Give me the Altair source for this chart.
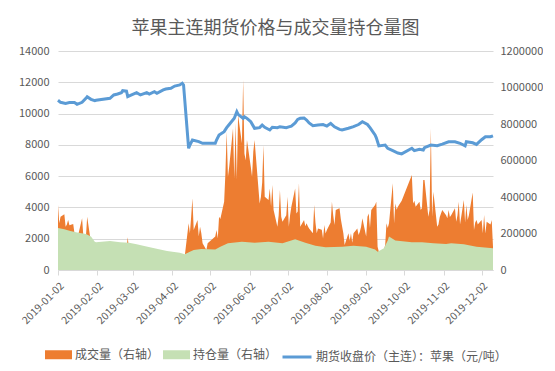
import altair as alt
import pandas as pd

FONT = "Noto Sans CJK SC"
TXT = "#595959"
GRID = "#D9D9D9"

title_text = "苹果主连期货价格与成交量持仓量图"
series_names = ["成交量（右轴）", "持仓量（右轴）", "期货收盘价（主连）：苹果（元/吨）"]
series_colors = ["#ED7D31", "#C5E0B4", "#5B9BD5"]

tick_dates = ["2019-%02d-02" % m for m in range(1, 13)]
left_ticks = [0, 2000, 4000, 6000, 8000, 10000, 12000, 14000]
right_ticks = [0, 200000, 400000, 600000, 800000, 1000000, 1200000]

price_dates = [
    "2019-01-02", "2019-01-04", "2019-01-08", "2019-01-11", "2019-01-15", "2019-01-17",
    "2019-01-21", "2019-01-24", "2019-01-25", "2019-01-28", "2019-01-31", "2019-02-01",
    "2019-02-12", "2019-02-15", "2019-02-18", "2019-02-21", "2019-02-22", "2019-02-25",
    "2019-02-26", "2019-03-01", "2019-03-05", "2019-03-08", "2019-03-13", "2019-03-15",
    "2019-03-19", "2019-03-21", "2019-03-26", "2019-03-28", "2019-04-01", "2019-04-04",
    "2019-04-08", "2019-04-10", "2019-04-11", "2019-04-15", "2019-04-16", "2019-04-18",
    "2019-04-23", "2019-04-26", "2019-05-06", "2019-05-07", "2019-05-09", "2019-05-13",
    "2019-05-15", "2019-05-17", "2019-05-21", "2019-05-23", "2019-05-24", "2019-05-28",
    "2019-05-29", "2019-05-31", "2019-06-03", "2019-06-06", "2019-06-10", "2019-06-12",
    "2019-06-14", "2019-06-18", "2019-06-20", "2019-06-24", "2019-06-26", "2019-07-01",
    "2019-07-03", "2019-07-05", "2019-07-08", "2019-07-10", "2019-07-12", "2019-07-15",
    "2019-07-17", "2019-07-19", "2019-07-22", "2019-07-26", "2019-07-30", "2019-08-02",
    "2019-08-05", "2019-08-08", "2019-08-12", "2019-08-14", "2019-08-19", "2019-08-23",
    "2019-08-27", "2019-08-30", "2019-09-03", "2019-09-05", "2019-09-09", "2019-09-10",
    "2019-09-12", "2019-09-17", "2019-09-19", "2019-09-23", "2019-09-27", "2019-09-30",
    "2019-10-08", "2019-10-10", "2019-10-14", "2019-10-17", "2019-10-18", "2019-10-23",
    "2019-10-28", "2019-11-01", "2019-11-06", "2019-11-11", "2019-11-15", "2019-11-19",
    "2019-11-20", "2019-11-25", "2019-11-28", "2019-12-02", "2019-12-05", "2019-12-09",
    "2019-12-11",
]
price_values = [
    10850, 10720, 10650, 10700, 10700, 10590,
    10720, 10975, 11080, 10910, 10820, 10850,
    10975, 11190, 11250, 11335, 11465, 11440,
    11080, 11190, 11335, 11190, 11335, 11250,
    11400, 11295, 11510, 11570, 11615, 11760,
    11830, 11935, 11830, 7780, 7990, 8310,
    8205, 8100, 8100, 8310, 8630, 8845,
    9100, 9300, 9700, 10120, 9950, 9695,
    9800, 9695, 9480, 9055, 9100, 9270,
    9120, 8950, 9120, 9100, 9160, 9100,
    9150, 9200, 9400, 9630, 9700, 9720,
    9590, 9400, 9230, 9270, 9300, 9200,
    9375, 9150, 8990, 8950, 9060, 9160,
    9300, 9480, 9300, 9100, 8630, 8450,
    7930, 7990, 7780, 7630, 7480, 7420,
    7780, 7630, 7710, 7670, 7820, 7990,
    7950, 8050, 8200, 8200, 8100, 7930,
    8200, 8130, 8030, 8330, 8520, 8520,
    8580,
]

oi_dates = [
    "2019-01-02", "2019-01-07", "2019-01-11", "2019-01-17", "2019-01-24", "2019-01-28",
    "2019-01-31", "2019-02-01", "2019-02-12", "2019-02-20", "2019-02-27", "2019-03-05",
    "2019-03-11", "2019-03-19", "2019-03-29", "2019-04-08", "2019-04-12", "2019-04-16",
    "2019-04-19", "2019-04-25", "2019-05-06", "2019-05-10", "2019-05-16", "2019-05-27",
    "2019-06-06", "2019-06-17", "2019-06-28", "2019-07-08", "2019-07-16", "2019-07-24",
    "2019-08-01", "2019-08-14", "2019-08-23", "2019-09-02", "2019-09-09", "2019-09-11",
    "2019-09-16", "2019-09-19", "2019-09-20", "2019-09-25", "2019-10-08", "2019-10-16",
    "2019-10-25", "2019-11-04", "2019-11-08", "2019-11-18", "2019-11-22", "2019-11-28",
    "2019-12-11",
]
oi_values = [
    230000, 223000, 215000, 206000, 197000, 183000,
    155000, 152000, 159000, 152000, 150000, 141000,
    131000, 119000, 104000, 95000, 86000, 100000,
    110000, 115000, 113000, 128000, 146000, 155000,
    150000, 155000, 146000, 168000, 150000, 133000,
    124000, 128000, 133000, 128000, 113000, 100000,
    119000, 161000, 183000, 161000, 152000, 152000,
    146000, 142000, 146000, 141000, 136000, 128000,
    119000,
]

vol_dates = [
    "2019-01-02", "2019-01-03", "2019-01-04", "2019-01-07", "2019-01-08", "2019-01-09",
    "2019-01-10", "2019-01-11", "2019-01-14", "2019-01-15", "2019-01-16", "2019-01-17",
    "2019-01-18", "2019-01-21", "2019-01-22", "2019-01-23", "2019-01-24", "2019-01-25",
    "2019-01-28", "2019-01-31", "2019-02-01", "2019-02-12", "2019-02-20", "2019-02-25",
    "2019-02-26", "2019-02-27", "2019-03-11", "2019-03-20", "2019-04-01", "2019-04-11",
    "2019-04-12", "2019-04-15", "2019-04-16", "2019-04-17", "2019-04-18", "2019-04-19",
    "2019-04-22", "2019-04-23", "2019-04-24", "2019-04-25", "2019-04-26", "2019-04-29",
    "2019-04-30", "2019-05-06", "2019-05-07", "2019-05-08", "2019-05-09", "2019-05-10",
    "2019-05-13", "2019-05-14", "2019-05-15", "2019-05-16", "2019-05-17", "2019-05-20",
    "2019-05-21", "2019-05-22", "2019-05-23", "2019-05-24", "2019-05-27", "2019-05-28",
    "2019-05-29", "2019-05-30", "2019-05-31", "2019-06-03", "2019-06-04", "2019-06-05",
    "2019-06-06", "2019-06-10", "2019-06-11", "2019-06-12", "2019-06-13", "2019-06-14",
    "2019-06-17", "2019-06-18", "2019-06-19", "2019-06-20", "2019-06-21", "2019-06-24",
    "2019-06-25", "2019-06-26", "2019-06-27", "2019-06-28", "2019-07-01", "2019-07-02",
    "2019-07-03", "2019-07-04", "2019-07-05", "2019-07-08", "2019-07-09", "2019-07-10",
    "2019-07-11", "2019-07-12", "2019-07-15", "2019-07-16", "2019-07-17", "2019-07-18",
    "2019-07-19", "2019-07-22", "2019-07-23", "2019-07-24", "2019-07-25", "2019-07-26",
    "2019-07-29", "2019-07-30", "2019-07-31", "2019-08-01", "2019-08-02", "2019-08-05",
    "2019-08-06", "2019-08-07", "2019-08-08", "2019-08-09", "2019-08-12", "2019-08-13",
    "2019-08-14", "2019-08-15", "2019-08-16", "2019-08-19", "2019-08-20", "2019-08-21",
    "2019-08-22", "2019-08-23", "2019-08-26", "2019-08-27", "2019-08-28", "2019-08-29",
    "2019-08-30", "2019-09-02", "2019-09-03", "2019-09-04", "2019-09-05", "2019-09-06",
    "2019-09-09", "2019-09-10", "2019-09-11", "2019-09-12", "2019-09-16", "2019-09-17",
    "2019-09-18", "2019-09-19", "2019-09-20", "2019-09-23", "2019-09-24", "2019-09-25",
    "2019-09-26", "2019-09-27", "2019-09-30", "2019-10-08", "2019-10-09", "2019-10-10",
    "2019-10-11", "2019-10-14", "2019-10-15", "2019-10-16", "2019-10-17", "2019-10-18",
    "2019-10-21", "2019-10-22", "2019-10-23", "2019-10-24", "2019-10-25", "2019-10-28",
    "2019-10-29", "2019-10-30", "2019-10-31", "2019-11-01", "2019-11-04", "2019-11-05",
    "2019-11-06", "2019-11-07", "2019-11-08", "2019-11-11", "2019-11-12", "2019-11-13",
    "2019-11-14", "2019-11-15", "2019-11-18", "2019-11-19", "2019-11-20", "2019-11-21",
    "2019-11-22", "2019-11-25", "2019-11-26", "2019-11-27", "2019-11-28", "2019-11-29",
    "2019-12-02", "2019-12-03", "2019-12-04", "2019-12-05", "2019-12-06", "2019-12-09",
    "2019-12-10", "2019-12-11",
]
vol_values = [
    356000, 256000, 292000, 305000, 237000, 250000,
    274000, 245000, 252000, 200000, 190000, 180000,
    195000, 283000, 185000, 175000, 180000, 292000,
    150000, 120000, 110000, 120000, 110000, 120000,
    180000, 110000, 100000, 90000, 75000, 65000,
    80000, 256000, 201000, 292000, 393000, 219000,
    274000, 183000, 237000, 201000, 146000, 110000,
    146000, 183000, 219000, 173000, 292000, 280000,
    374000, 530000, 758000, 511000, 566000, 776000,
    500000, 804000, 493000, 849000, 694000, 1041000,
    639000, 600000, 712000, 566000, 511000, 650000,
    712000, 365000, 400000, 480000, 685000, 402000,
    384000, 447000, 347000, 466000, 329000, 237000,
    300000, 438000, 292000, 265000, 300000, 402000,
    237000, 300000, 347000, 447000, 310000, 320000,
    475000, 237000, 274000, 240000, 256000, 240000,
    228000, 201000, 356000, 260000, 201000, 228000,
    220000, 173000, 247000, 200000, 219000, 260000,
    374000, 300000, 247000, 329000, 338000, 280000,
    240000, 201000, 137000, 201000, 160000, 201000,
    150000, 201000, 228000, 192000, 210000, 237000,
    283000, 183000, 292000, 310000, 230000, 329000,
    356000, 374000, 128000, 100000, 110000, 137000,
    256000, 230000, 256000, 475000, 256000, 365000,
    330000, 347000, 380000, 520000, 365000, 380000,
    347000, 374000, 329000, 340000, 493000, 493000,
    292000, 330000, 776000, 292000, 429000, 237000,
    250000, 290000, 310000, 329000, 300000, 283000,
    329000, 290000, 300000, 338000, 265000, 300000,
    374000, 250000, 383000, 260000, 356000, 274000,
    300000, 424000, 219000, 260000, 274000, 250000,
    274000, 201000, 301000, 200000, 265000, 250000,
    274000, 128000,
]


def make_df(dates, values, name):
    return pd.DataFrame({
        "date": [d.replace("-", "/") for d in dates],
        "value": values,
        "series": [name] * len(values),
    })


vol_df = make_df(vol_dates, vol_values, series_names[0])
oi_df = make_df(oi_dates, oi_values, series_names[1])
price_df = make_df(price_dates, price_values, series_names[2])


def dt(s):
    y, m, d = (int(p) for p in s.split("-"))
    return alt.DateTime(year=y, month=m, date=d)


x_enc = alt.X(
    "date:T",
    scale=alt.Scale(domain=[dt("2019-01-02"), dt("2019-12-11")]),
    axis=alt.Axis(
        values=[dt(s) for s in tick_dates], format="%Y-%m-%d", title=None,
        labelAngle=-45, labelAlign="right", labelBaseline="middle",
        labelFont=FONT, labelFontSize=10.5, labelColor=TXT, labelPadding=9,
        labelOffset=4, labelOverlap=False, grid=False, domainColor=GRID,
        tickColor=GRID, tickSize=5,
    ),
)

right_scale = alt.Scale(domain=[0, 1200000], nice=False)
right_axis = alt.Axis(
    orient="right", values=right_ticks, format="d", title=None, grid=False,
    domain=False, ticks=False, labelPadding=7, labelFont=FONT,
    labelFontSize=11, labelColor=TXT,
)
fill_enc = alt.Fill(
    "series:N",
    scale=alt.Scale(domain=series_names[:2], range=series_colors[:2]),
    legend=alt.Legend(
        orient="none", legendX=-13, legendY=290, direction="horizontal",
        title=None, symbolType="M-1,-0.333H1V0.333H-1Z", symbolSize=729,
        symbolStrokeWidth=0, labelFont=FONT, labelFontSize=12, labelColor=TXT,
        labelOffset=3, columnPadding=3, padding=0, labelLimit=400,
    ),
)

vol = alt.Chart(vol_df).mark_area(opacity=1).encode(
    x=x_enc, y=alt.Y("value:Q", scale=right_scale, axis=right_axis), fill=fill_enc
)
oi = alt.Chart(oi_df).mark_area(opacity=1).encode(
    x=x_enc, y=alt.Y("value:Q", scale=right_scale, axis=right_axis), fill=fill_enc
)

price = alt.Chart(price_df).mark_line(strokeWidth=3).encode(
    x=x_enc,
    y=alt.Y(
        "value:Q",
        scale=alt.Scale(domain=[0, 14000], nice=False),
        axis=alt.Axis(
            orient="left", values=left_ticks, format="d", title=None, grid=True,
            gridColor=GRID, domain=False, ticks=False, labelPadding=9,
            labelFont=FONT, labelFontSize=11, labelColor=TXT,
        ),
    ),
    stroke=alt.Stroke(
        "series:N",
        scale=alt.Scale(domain=series_names[2:], range=series_colors[2:]),
        legend=alt.Legend(
            orient="none", legendX=223, legendY=290, title=None,
            symbolType="stroke", symbolSize=841, symbolStrokeWidth=3,
            labelFont=FONT, labelFontSize=12, labelColor=TXT, labelOffset=3,
            padding=0, labelLimit=400,
        ),
    ),
)

chart = (
    alt.layer(alt.layer(vol, oi), price)
    .resolve_scale(y="independent")
    .properties(
        width=435, height=219,
        autosize=alt.AutoSizeParams(type="none"),
        padding={"left": 50, "top": 43, "right": 50, "bottom": 93},
        title=alt.TitleParams(
            text=title_text, font=FONT, fontSize=18, fontWeight="normal",
            color=TXT, anchor="middle", offset=7,
        ),
        background="white",
    )
    .configure_view(strokeWidth=0)
)

chart.save("out.html", embed_options={"renderer": "svg", "actions": False})
